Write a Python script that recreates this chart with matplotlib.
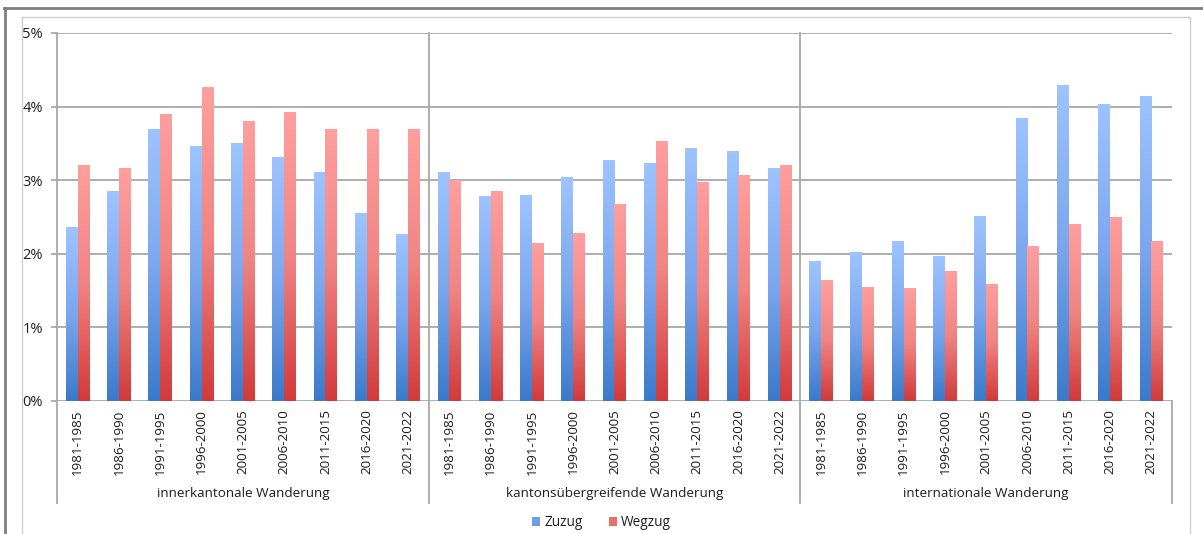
import numpy as np
import matplotlib
matplotlib.use("Agg")
import matplotlib.pyplot as plt
from matplotlib.lines import Line2D
from matplotlib.patches import Patch
from matplotlib.colors import LinearSegmentedColormap
import matplotlib.transforms as mtrans

plt.rcParams['font.family'] = ['Open Sans', 'DejaVu Sans']

# data (percent)
periods = ['1981-1985', '1986-1990', '1991-1995', '1996-2000', '2001-2005',
           '2006-2010', '2011-2015', '2016-2020', '2021-2022']
groups = ['innerkantonale Wanderung', 'kantonsübergreifende Wanderung',
          'internationale Wanderung']
zuzug_inner = [2.37, 2.85, 3.69, 3.46, 3.50, 3.32, 3.11, 2.55, 2.27]
wegzug_inner = [3.21, 3.16, 3.90, 4.26, 3.80, 3.92, 3.69, 3.70, 3.70]
zuzug_kanton = [3.11, 2.79, 2.80, 3.05, 3.27, 3.24, 3.44, 3.39, 3.16]
wegzug_kanton = [3.00, 2.86, 2.14, 2.28, 2.68, 3.53, 2.98, 3.07, 3.21]
zuzug_intl = [1.90, 2.02, 2.17, 1.97, 2.51, 3.85, 4.29, 4.04, 4.15]
wegzug_intl = [1.64, 1.55, 1.54, 1.77, 1.59, 2.10, 2.40, 2.50, 2.17]

zuzug = zuzug_inner + zuzug_kanton + zuzug_intl
wegzug = wegzug_inner + wegzug_kanton + wegzug_intl
labels = periods * 3

W, H = 1203, 534
txt = '#1e1e1e'
fig = plt.figure(figsize=(W / 100, H / 100), dpi=100)
fig.patch.set_facecolor('white')
ax = fig.add_axes([57 / W, 1 - 401 / H, 1115 / W, 368 / H])

x = np.arange(len(labels))
bw = 0.286
blue_cm = LinearSegmentedColormap.from_list('b', ['#3a7acb', '#7ca7ed', '#9ec4ff'])
red_cm = LinearSegmentedColormap.from_list('r', ['#d23a3a', '#ef8483', '#ff9f9e'])

b1 = ax.bar(x - bw / 2, zuzug, bw, color='#7ea8ee', zorder=2, linewidth=0)
b2 = ax.bar(x + bw / 2, wegzug, bw, color='#f08585', zorder=2, linewidth=0)

# vertical gradient inside every bar
grad = np.linspace(0, 1, 256).reshape(-1, 1)
for bars, cm in ((b1, blue_cm), (b2, red_cm)):
    for p in bars:
        x0, w, h = p.get_x(), p.get_width(), p.get_height()
        im = ax.imshow(grad, cmap=cm, origin='lower', aspect='auto',
                       extent=[x0, x0 + w, 0, h], zorder=3, interpolation='bilinear')
        im.set_clip_path(p)

ax.set_xlim(-0.5, len(labels) - 0.5)
ax.set_ylim(0, 5)
ax.set_yticks(range(6))
ax.set_yticklabels([f'{i}%' for i in range(6)])
ax.yaxis.grid(True, color='#a8a8a8', linewidth=1.3, zorder=0)
ax.set_axisbelow(True)
ax.tick_params(axis='y', length=4, width=1.3, color='#a8a8a8', pad=6,
               labelsize=10.5, labelcolor=txt)
ax.set_xticks(x)
ax.set_xticklabels(labels, rotation=90, va='top', ha='center')
ax.tick_params(axis='x', length=0, pad=6, labelsize=9.6, labelcolor=txt)
for s in ax.spines.values():
    s.set_visible(False)

# group separators and labels
trans = mtrans.blended_transform_factory(ax.transData, ax.transAxes)
ext = (401 - 503) / 368
for xs in (-0.5, 8.5, 17.5):
    ax.plot([xs, xs], [ext, 1], transform=trans, color='#a8a8a8', lw=1.3,
            clip_on=False, zorder=1)
ax.plot([26.5, 26.5], [ext, 0], transform=trans, color='#a8a8a8', lw=1.3,
        clip_on=False, zorder=1)
for i, g in enumerate(groups):
    ax.text(4 + 9 * i, (401 - 494) / 368, g, transform=trans, ha='center',
            va='center', fontsize=9.7, color=txt)

handles = [Patch(facecolor='#6e9ce6', label='Zuzug'),
           Patch(facecolor='#ea6e6d', label='Wegzug')]
fig.legend(handles=handles, loc='center', bbox_to_anchor=(0.5, 1 - 523 / H),
           ncol=2, frameon=False, fontsize=9.8, handlelength=0.6,
           handleheight=0.6, handletextpad=0.3, columnspacing=1.9,
           labelcolor=txt)

# outer frames
def fline(xs, ys, **kw):
    fig.add_artist(Line2D([v / W for v in xs], [1 - v / H for v in ys], **kw))

fline([4, 1203], [7.5, 7.5], color='#7f7f7f', lw=2)
fline([4.7, 4.7], [7.5, 534], color='#7f7f7f', lw=2)
fline([21.7, 1190, 1190], [17, 17, 534], color='#cfcfcf', lw=1)
fline([21.7, 21.7], [17, 534], color='#cfcfcf', lw=1)

fig.savefig('out.png', dpi=100)
